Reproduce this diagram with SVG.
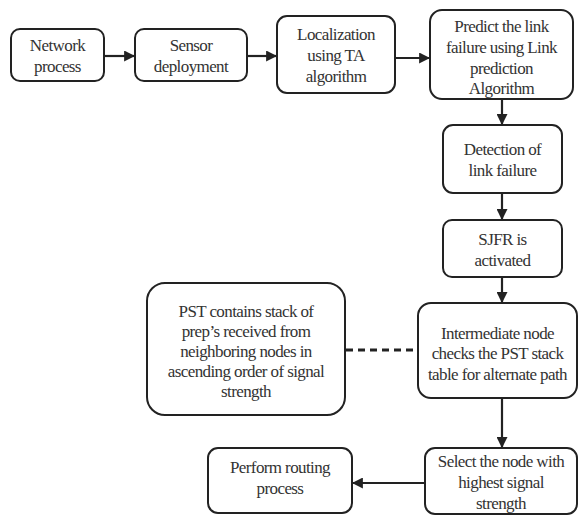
<svg xmlns="http://www.w3.org/2000/svg" width="580" height="516" viewBox="0 0 580 516">
<style>
.box{fill:#fff;stroke:#222;stroke-width:2}
text{font-family:"Liberation Serif",Tinos,"Times New Roman","DejaVu Serif",serif;font-size:17px;fill:#333;text-anchor:middle;letter-spacing:-0.6px}
.c{stroke:#222;stroke-width:2.2;fill:none}
.d{stroke:#222;stroke-width:2.8;fill:none;stroke-dasharray:7 5}
</style>
<defs>
<marker id="ah" viewBox="0 0 10 10" refX="9" refY="5" markerWidth="5" markerHeight="5" orient="auto" markerUnits="strokeWidth">
<path d="M0,0 L10,5 L0,10 Z" fill="#222"/>
</marker>
</defs>
<rect width="580" height="516" fill="#fff"/>
<g id="connectors">
<line class="c" x1="104" y1="56" x2="134" y2="56" marker-end="url(#ah)"/>
<line class="c" x1="247" y1="56" x2="276" y2="56" marker-end="url(#ah)"/>
<line class="c" x1="395" y1="58" x2="429" y2="58" marker-end="url(#ah)"/>
<line class="c" x1="502" y1="99" x2="502" y2="124" marker-end="url(#ah)"/>
<line class="c" x1="502" y1="193" x2="502" y2="219" marker-end="url(#ah)"/>
<line class="c" x1="502" y1="277" x2="502" y2="302" marker-end="url(#ah)"/>
<line class="d" x1="346" y1="350" x2="418" y2="350"/>
<line class="c" x1="502" y1="398" x2="502" y2="447" marker-end="url(#ah)"/>
<line class="c" x1="425" y1="483" x2="353" y2="483" marker-end="url(#ah)"/>
</g>
<g id="n1"><rect class="box" x="11" y="29" width="93" height="52" rx="9"/>
<text x="57.5" y="51">Network</text><text x="57.5" y="72">process</text></g>
<g id="n2"><rect class="box" x="135" y="29" width="112" height="52" rx="9"/>
<text x="191" y="51">Sensor</text><text x="191" y="72">deployment</text></g>
<g id="n3"><rect class="box" x="277" y="16" width="118" height="77" rx="10"/>
<text x="336" y="40">Localization</text><text x="336" y="61">using TA</text><text x="336" y="82">algorithm</text></g>
<g id="n4"><rect class="box" x="430" y="10" width="143" height="89" rx="12"/>
<text x="501.5" y="32">Predict the link</text><text x="501.5" y="53">failure using Link</text><text x="501.5" y="74">prediction</text><text x="501.5" y="94">Algorithm</text></g>
<g id="n5"><rect class="box" x="443" y="125" width="119" height="68" rx="10"/>
<text x="502.5" y="155">Detection of</text><text x="502.5" y="176">link failure</text></g>
<g id="n6"><rect class="box" x="443" y="220" width="119" height="57" rx="9"/>
<text x="502.5" y="245">SJFR is</text><text x="502.5" y="266">activated</text></g>
<g id="n7"><rect class="box" x="418" y="303" width="159" height="95" rx="13"/>
<text x="497.5" y="339">Intermediate node</text><text x="497.5" y="359">checks the PST stack</text><text x="497.5" y="380">table for alternate path</text></g>
<g id="n8"><rect class="box" x="147" y="283" width="198" height="132" rx="18"/>
<text x="246" y="317">PST contains stack of</text><text x="246" y="337">prep’s received from</text><text x="246" y="357">neighboring nodes in</text><text x="246" y="377">ascending order of signal</text><text x="246" y="397">strength</text></g>
<g id="n9"><rect class="box" x="425" y="448" width="152" height="66" rx="10"/>
<text x="501" y="467">Select the  node with</text><text x="501" y="488">highest signal</text><text x="501" y="509">strength</text></g>
<g id="n10"><rect class="box" x="208" y="448" width="144" height="65" rx="10"/>
<text x="280" y="473">Perform routing</text><text x="280" y="494">process</text></g>
</svg>
